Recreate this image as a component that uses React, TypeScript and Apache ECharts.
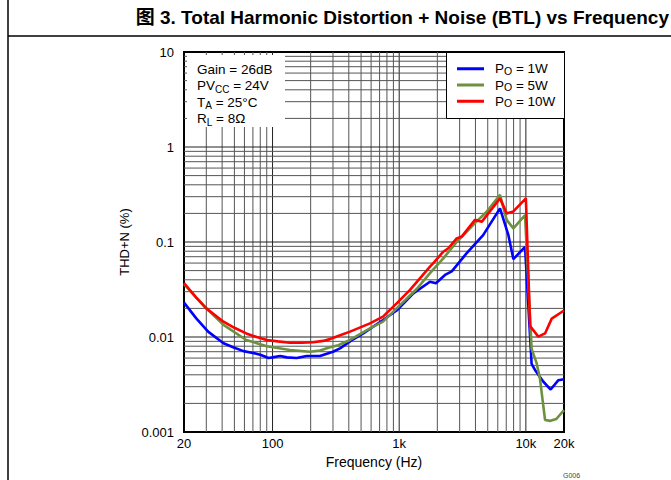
import React, { useEffect, useRef } from "react";
import * as echarts from "echarts";

const FONT = '"Liberation Sans", Arial, "Noto Sans CJK SC", sans-serif';

const TITLE = "图 3. Total Harmonic Distortion + Noise (BTL) vs Frequency";
const X_NAME = "Frequency (Hz)";
const Y_NAME = "THD+N (%)";
const SERIES_NAMES = ["PO = 1W", "PO = 5W", "PO = 10W"];
const SERIES_COLORS = ["#0000FF", "#6E913F", "#FF0000"];

// 1 W
const blueFreq = [20, 25, 31, 41, 50, 59, 70, 80, 93, 100, 115, 130, 155, 186, 237, 300, 341, 420, 521, 745, 955, 1292, 1750, 1950, 2300, 2600, 3400, 4600, 6250, 7280, 7970, 9850, 11100, 11800, 13700, 15700, 18000, 20000];
const blueThd = [0.023, 0.0157, 0.0114, 0.0086, 0.0077, 0.0071, 0.0068, 0.0065, 0.006, 0.0061, 0.0063, 0.0061, 0.006, 0.0063, 0.0063, 0.007, 0.0076, 0.0092, 0.0109, 0.0151, 0.019, 0.0288, 0.0382, 0.0368, 0.045, 0.049, 0.076, 0.118, 0.226, 0.118, 0.066, 0.089, 0.0052, 0.0045, 0.0034, 0.0028, 0.0035, 0.0036];

// 5 W
const greenFreq = [20, 25, 30, 41, 62, 90, 137, 198, 237, 284, 330, 409, 588, 745, 955, 1374, 1750, 2229, 2843, 3965, 4900, 6250, 7057, 7970, 9850, 11100, 12160, 12910, 14170, 15620, 17390, 20000];
const greenThd = [0.036, 0.026, 0.02, 0.0134, 0.0093, 0.008, 0.0073, 0.007, 0.0072, 0.0078, 0.0082, 0.0093, 0.0123, 0.0145, 0.02, 0.032, 0.047, 0.0673, 0.1, 0.158, 0.208, 0.313, 0.171, 0.139, 0.192, 0.0075, 0.0053, 0.00367, 0.00134, 0.00131, 0.00137, 0.0017];

// 10 W
const redFreq = [20, 25, 30, 41, 50, 62, 75, 90, 110, 137, 170, 210, 250, 284, 321, 409, 588, 745, 955, 1217, 1374, 1750, 1860, 2229, 2443, 2843, 3116, 3965, 4480, 6250, 7057, 7970, 10000, 10800, 12540, 14170, 16000, 20000];
const redThd = [0.037, 0.026, 0.02, 0.0145, 0.0125, 0.0109, 0.01, 0.0093, 0.009, 0.0087, 0.0087, 0.0088, 0.0091, 0.0095, 0.0101, 0.0114, 0.0139, 0.0164, 0.0226, 0.0313, 0.0378, 0.055, 0.06, 0.079, 0.086, 0.109, 0.114, 0.171, 0.163, 0.288, 0.2, 0.21, 0.288, 0.013, 0.0101, 0.0109, 0.0156, 0.019];

const X_MIN = 20;
const X_MAX = 20000;
const Y_MIN = 0.001;
const Y_MAX = 10;

const NOTE_LINES = ["{n|Gain = 26dB}", "{n|PV}{s|CC}{n| = 24V}", "{n|T}{s|A}{n| = 25°C}", "{n|R}{s|L}{n| = 8Ω}"];

function zip(f: number[], v: number[]) {
  return f.map((x, i) => [x, v[i]]);
}

function buildGridLines() {
  const items: number[][] = [];
  for (let e = 1; e <= 4; e++) {
    for (let k = 1; k <= 9; k++) {
      const f = k * Math.pow(10, e);
      if (f > X_MIN && f < X_MAX) items.push([f, 1, 0, k === 1 ? 1 : 0]);
    }
  }
  for (let e = -3; e <= 0; e++) {
    for (let k = 1; k <= 9; k++) {
      const v = Number((k * Math.pow(10, e)).toPrecision(3));
      if (v > Y_MIN && v < Y_MAX) items.push([100, v, 1, k === 1 ? 1 : 0]);
    }
  }
  return items;
}

export default function App() {
  const ref = useRef<HTMLDivElement>(null);
  useEffect(() => {
    if (!ref.current) return;
    const chart = echarts.init(ref.current, undefined, { renderer: "svg" });
    const rich = {
      n: { fontSize: 13.5, fontFamily: FONT, color: "#000", lineHeight: 16.5 },
      s: { fontSize: 10, fontFamily: FONT, color: "#000", lineHeight: 10, verticalAlign: "bottom" },
    };
    const legendRich = {
      n: { fontSize: 13.5, fontFamily: FONT, color: "#000", lineHeight: 14 },
      s: { fontSize: 10.5, fontFamily: FONT, color: "#000", lineHeight: 9, verticalAlign: "bottom" },
    };
    const datasets = [zip(blueFreq, blueThd), zip(greenFreq, greenThd), zip(redFreq, redThd)];
    const option: any = {
      animation: false,
      backgroundColor: "#fff",
      grid: {
        left: 184,
        top: 52,
        width: 380,
        height: 380,
        show: true,
        borderColor: "#000",
        borderWidth: 2,
        backgroundColor: "transparent",
        containLabel: false,
      },
      xAxis: {
        type: "log",
        logBase: 10,
        min: X_MIN,
        max: X_MAX,
        name: X_NAME,
        nameLocation: "middle",
        nameGap: 22,
        nameTextStyle: { fontSize: 14, fontFamily: FONT, color: "#000" },
        axisLine: { show: false },
        axisTick: { show: false },
        splitLine: { show: false },
        axisLabel: {
          margin: 5,
          fontSize: 13,
          fontFamily: FONT,
          color: "#000",
          showMinLabel: true,
          showMaxLabel: true,
          formatter: (v: number) => {
            const r = Math.round(v);
            return r >= 1000 ? r / 1000 + "k" : String(r);
          },
        },
      },
      yAxis: {
        type: "log",
        logBase: 10,
        min: Y_MIN,
        max: Y_MAX,
        name: Y_NAME,
        nameLocation: "middle",
        nameGap: 52,
        nameTextStyle: { fontSize: 13, fontFamily: FONT, color: "#000" },
        axisLine: { show: false },
        axisTick: { show: false },
        splitLine: { show: false },
        axisLabel: {
          margin: 10,
          fontSize: 13,
          fontFamily: FONT,
          color: "#000",
          formatter: (v: number) => String(Number(v.toPrecision(2))),
        },
      },
      legend: {
        orient: "vertical",
        left: 457,
        top: 62,
        padding: 0,
        itemGap: 2.5,
        itemWidth: 27,
        itemHeight: 3,
        icon: "rect",
        data: SERIES_NAMES,
        formatter: (name: string) => "{n|P}{s|O}{n| = " + name.split(" = ")[1] + "}",
        textStyle: { fontSize: 13.5, fontFamily: FONT, color: "#000", padding: [0, 0, 0, 6], rich: legendRich },
      },
      graphic: [
        { type: "line", z: 10, shape: { x1: 8, y1: 0, x2: 8, y2: 480 }, style: { stroke: "#000", lineWidth: 1.5 } },
        { type: "line", z: 10, shape: { x1: 8, y1: 36, x2: 671, y2: 36 }, style: { stroke: "#000", lineWidth: 1.5 } },
        {
          type: "text",
          z: 10,
          x: 669,
          y: 17,
          style: { text: TITLE, font: "bold 19px " + FONT, fill: "#000", verticalAlign: "middle", align: "right" },
        },
        { type: "rect", z: 2, shape: { x: 187, y: 55, width: 98, height: 72 }, style: { fill: "#fff" } },
        {
          type: "text",
          z: 3,
          x: 197,
          y: 61,
          style: { text: NOTE_LINES.join("\n"), rich, fill: "#000", font: "13.5px " + FONT, verticalAlign: "top" },
        },
        { type: "rect", z: 2, shape: { x: 446.5, y: 52.5, width: 118, height: 66 }, style: { fill: "#fff", stroke: "#000", lineWidth: 1 } },
        {
          type: "text",
          z: 3,
          x: 563,
          y: 472,
          style: { text: "G006", font: "7px " + FONT, fill: "#444", verticalAlign: "top" },
        },
      ],
      series: [
        {
          type: "custom",
          silent: true,
          z: 1,
          data: buildGridLines(),
          encode: { x: 0, y: 1 },
          renderItem: (params: any, api: any) => {
            const kind = api.value(2);
            const major = api.value(3);
            let p1, p2;
            if (kind === 0) {
              const f = api.value(0);
              p1 = api.coord([f, Y_MIN]);
              p2 = api.coord([f, Y_MAX]);
            } else {
              const v = api.value(1);
              p1 = api.coord([X_MIN, v]);
              p2 = api.coord([X_MAX, v]);
            }
            return {
              type: "line",
              shape: { x1: p1[0], y1: p1[1], x2: p2[0], y2: p2[1] },
              style: { stroke: major ? "#222" : "#555", lineWidth: 1 },
            };
          },
        },
        ...SERIES_NAMES.map((name, i) => ({
          type: "line",
          name,
          z: 5,
          data: datasets[i],
          symbol: "none",
          showSymbol: false,
          smooth: false,
          color: SERIES_COLORS[i],
          lineStyle: { width: 2.6, color: SERIES_COLORS[i] },
        })),
      ],
    };
    chart.setOption(option);
    return () => chart.dispose();
  }, []);
  return <div ref={ref} style={{ position: "absolute", left: 0, top: 0, width: 671, height: 480 }} />;
}
